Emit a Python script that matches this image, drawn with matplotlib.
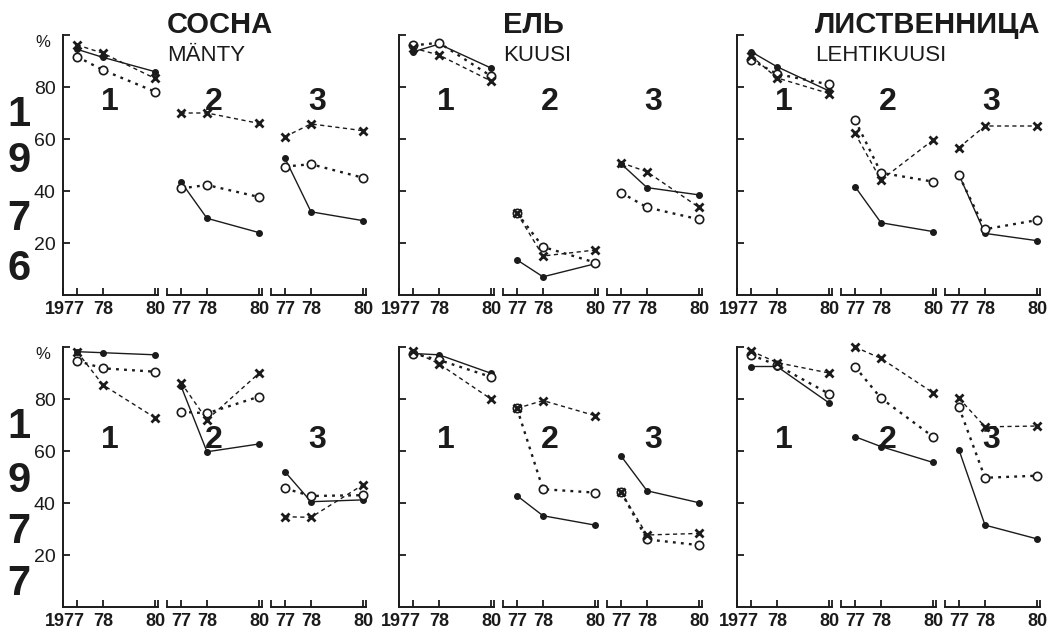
import matplotlib.pyplot as plt
from matplotlib.transforms import ScaledTranslation

plt.rcParams['font.family'] = ['Liberation Sans', 'DejaVu Sans']

# values, per species: three groups, each for years 77, 78, 80
years = [77, 78, 80]
year_labels = [['1977', '78', '80'], ['77', '78', '80'], ['77', '78', '80']]
group_names = ['1', '2', '3']
species_ru = ['СОСНА', 'ЕЛЬ', 'ЛИСТВЕННИЦА']
species_fi = ['MÄNTY', 'KUUSI', 'LEHTIKUUSI']
row_years = ['1976', '1977']
y_ticks = [20, 40, 60, 80, 100]
y_ticklabels = ['20', '40', '60', '80', '']

# 1976
pine_1976_dot = [[94.5, 91.4, 85.9], [43.5, 29.5, 24.0], [52.6, 32.0, 28.6]]
pine_1976_circle = [[91.7, 86.5, 78.2], [41.0, 42.3, 37.7], [49.4, 50.3, 45.1]]
pine_1976_cross = [[96.2, 93.0, 83.3], [70.0, 70.0, 66.0], [60.9, 65.8, 63.2]]

spruce_1976_dot = [[93.5, 96.5, 87.3], [13.5, 7.0, 12.0], [50.5, 41.3, 38.5]]
spruce_1976_circle = [[96.0, 97.0, 84.2], [31.5, 18.5, 12.5], [39.4, 33.7, 29.1]]
spruce_1976_cross = [[95.0, 92.3, 82.3], [31.5, 15.0, 17.3], [50.9, 47.4, 33.7]]

larch_1976_dot = [[93.6, 87.8, 78.5], [41.7, 27.8, 24.4], [46.2, 23.7, 20.9]]
larch_1976_circle = [[90.5, 85.0, 81.0], [67.3, 47.0, 43.6], [46.0, 25.3, 28.8]]
larch_1976_cross = [[92.0, 83.5, 77.5], [62.2, 44.2, 59.6], [56.7, 65.0, 65.0]]

# 1977
pine_1977_dot = [[98.2, 97.8, 97.0], [85.0, 59.7, 62.7], [52.0, 40.5, 41.2]]
pine_1977_circle = [[94.7, 91.8, 90.5], [75.1, 74.5, 80.9], [45.6, 42.7, 43.0]]
pine_1977_cross = [[98.2, 85.4, 72.8], [86.3, 72.0, 89.9], [34.7, 34.5, 47.0]]

spruce_1977_dot = [[97.5, 97.0, 89.9], [42.8, 35.1, 31.5], [58.1, 44.7, 40.1]]
spruce_1977_circle = [[97.5, 95.0, 88.5], [76.4, 45.3, 44.0], [44.3, 26.0, 23.8]]
spruce_1977_cross = [[98.5, 93.5, 80.0], [76.4, 79.4, 73.6], [44.3, 27.7, 28.3]]

larch_1977_dot = [[92.5, 92.5, 78.5], [65.5, 61.7, 55.6], [60.4, 31.5, 26.2]]
larch_1977_circle = [[97.0, 93.0, 82.0], [92.4, 80.3, 65.5], [76.8, 49.7, 50.5]]
larch_1977_cross = [[98.5, 94.0, 90.0], [100.0, 95.6, 82.4], [80.3, 69.3, 69.6]]

panels = [
    [(pine_1976_dot, pine_1976_circle, pine_1976_cross),
     (spruce_1976_dot, spruce_1976_circle, spruce_1976_cross),
     (larch_1976_dot, larch_1976_circle, larch_1976_cross)],
    [(pine_1977_dot, pine_1977_circle, pine_1977_cross),
     (spruce_1977_dot, spruce_1977_circle, spruce_1977_cross),
     (larch_1977_dot, larch_1977_circle, larch_1977_cross)],
]

INK = '#1b1b1b'
W, H = 1052, 634
PX_YEAR = 26
X77 = [77, 413, 751]       # pixel x of "77" in first group of each panel
GROUP_STEP = 104
ROW_ZERO = [295, 607]      # pixel y of 0 %
ROW_SPAN = 260
XLIM = (76.45, 80.12)
LABEL_BASE = [71, 61]

fig = plt.figure(figsize=(W / 100, H / 100), dpi=100)
fig.patch.set_facecolor('white')

for r in range(2):
    for c in range(3):
        dot, circle, cross = panels[r][c]
        for g in range(3):
            left = X77[c] + g * GROUP_STEP - (77 - XLIM[0]) * PX_YEAR
            width = (XLIM[1] - XLIM[0]) * PX_YEAR
            ax = fig.add_axes([left / W, (H - ROW_ZERO[r]) / H, width / W, ROW_SPAN / H])
            ax.set_xlim(*XLIM)
            ax.set_ylim(0, 100)
            ax.patch.set_alpha(0)

            ax.plot(years, dot[g], '-', color=INK, lw=1.0, marker='o', ms=4,
                    mfc=INK, mec=INK, clip_on=False, zorder=3)
            ax.plot(years, circle[g], ls=(0, (1.2, 2.2)), color=INK, lw=1.7,
                    marker='o', ms=6, mfc='white', mec=INK, mew=1.2, clip_on=False, zorder=4)
            ax.plot(years, cross[g], ls=(0, (3, 2.5)), color=INK, lw=1.0,
                    marker='x', ms=6, mec=INK, mew=2, clip_on=False, zorder=5)

            ax.text(78.25, LABEL_BASE[r], group_names[g], ha='center', va='baseline',
                    fontsize=23, fontweight='bold', color=INK, zorder=2)

            for s in ['top', 'right']:
                ax.spines[s].set_visible(False)
            ax.spines['bottom'].set_linewidth(1.4)
            ax.spines['bottom'].set_color(INK)

            ax.set_xticks(years)
            ax.set_xticklabels(year_labels[g], fontsize=13, fontweight='bold', color=INK)
            ax.set_xticks(list(XLIM), minor=True)
            ax.tick_params(axis='x', which='both', direction='in', length=5, width=1.3,
                           color=INK, pad=4)
            if g == 0:
                lbl = ax.get_xticklabels()[0]
                lbl.set_transform(lbl.get_transform() + ScaledTranslation(-9 / 72, 0, fig.dpi_scale_trans))
                ax.spines['left'].set_linewidth(1.4)
                ax.spines['left'].set_color(INK)
                ax.set_yticks(y_ticks)
                ax.tick_params(axis='y', direction='in', length=5, width=1.3, color=INK, pad=5)
                if c == 0:
                    ax.set_yticklabels(y_ticklabels, fontsize=14, color=INK)
                    ax.text(-0.21, 97, '%', transform=ax.get_yaxis_transform(),
                            ha='center', va='center', fontsize=12, color=INK)
                else:
                    ax.set_yticklabels([])
            else:
                ax.spines['left'].set_visible(False)
                ax.set_yticks([])

# titles
title_x = [167, 503, 815]
for c in range(3):
    fig.text(title_x[c] / W, 1 - 33 / H, species_ru[c], fontsize=21, fontweight='bold',
             color=INK, ha='left', va='baseline')
    fig.text(title_x[c] / W, 1 - 61 / H, species_fi[c], fontsize=16, color=INK,
             ha='left', va='baseline')

# large vertical year on the left
digit_base = [[126, 172, 230, 280], [438, 492, 543, 595]]
for r in range(2):
    for k, ch in enumerate(row_years[r]):
        fig.text(19 / W, 1 - digit_base[r][k] / H, ch, fontsize=30, fontweight='bold',
                 color=INK, ha='center', va='baseline')

fig.savefig('out.png', dpi=100, facecolor='white')
